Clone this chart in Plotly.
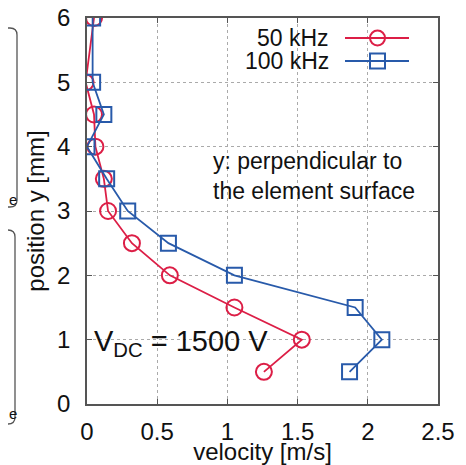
import plotly.graph_objects as go

# data
y_pos = [6, 5, 4.5, 4, 3.5, 3, 2.5, 2, 1.5, 1, 0.5]
v_50khz = [0.05, -0.01, 0.05, 0.06, 0.12, 0.15, 0.32, 0.59, 1.05, 1.53, 1.26]
v_100khz = [0.04, 0.04, 0.12, 0.0, 0.14, 0.29, 0.58, 1.05, 1.91, 2.1, 1.87]
x_ticks = [0, 0.5, 1, 1.5, 2, 2.5]
y_ticks = [0, 1, 2, 3, 4, 5, 6]
series_names = ["50 kHz", "100 kHz"]

RED = "rgb(220,30,70)"
BLUE = "rgb(40,90,170)"
FONT = "Liberation Sans, Arial, sans-serif"
INK = "#111111"

OFF = 8  # page body margin around the plot div
W, H = 466 - OFF, 465 - OFF
L, R, T, B = 87, 438, 18, 404  # plot area in page pixels


def px(x):
    return (x - L) / (R - L)


def py(y):
    return (B - y) / (B - T)


fig = go.Figure()
fig.add_trace(go.Scatter(
    x=v_50khz, y=y_pos, mode="lines+markers", name=series_names[0],
    line=dict(color=RED, width=1.8),
    marker=dict(symbol="circle-open", size=16, color=RED, line=dict(width=2)),
))
fig.add_trace(go.Scatter(
    x=v_100khz, y=y_pos, mode="lines+markers", name=series_names[1],
    line=dict(color=BLUE, width=1.8),
    marker=dict(symbol="square-open", size=15, color=BLUE, line=dict(width=2)),
))

shapes = []
# white boxes behind key / labels (cover gridlines only)
for x0, y0, x1, y1 in [(215, 23, 433, 71), (198, 140, 433, 208), (88, 323, 273, 373)]:
    shapes.append(dict(type="rect", xref="paper", yref="paper", layer="between",
                       x0=px(x0), x1=px(x1), y0=py(y1), y1=py(y0),
                       fillcolor="white", line=dict(width=0)))

# legend samples (text on the left, symbol on the right)
for i, col in enumerate([RED, BLUE]):
    yy = 38 + 23 * i
    shapes.append(dict(type="line", xref="paper", yref="paper",
                       x0=px(345), x1=px(409), y0=py(yy), y1=py(yy),
                       line=dict(color=col, width=1.8)))
    shapes.append(dict(type="circle" if i == 0 else "rect", xref="paper", yref="paper",
                       x0=px(370), x1=px(385), y0=py(yy + 7.5), y1=py(yy - 7.5),
                       line=dict(color=col, width=2), fillcolor="rgba(0,0,0,0)"))

# cropped-out neighbours of the original figure
shapes.append(dict(type="line", xref="paper", yref="paper",
                   x0=px(464), x1=px(464), y0=py(465), y1=py(10),
                   line=dict(color="#cccccc", width=1)))
for top, bot, right in [(28, 207, 17), (230, 424, 15)]:
    r = 7
    path = (f"M {px(0)},{py(top)} L {px(right - r)},{py(top)} "
            f"Q {px(right)},{py(top)} {px(right)},{py(top + r)} "
            f"L {px(right)},{py(bot - r)} "
            f"Q {px(right)},{py(bot)} {px(right - r)},{py(bot)} "
            f"L {px(0)},{py(bot)}")
    shapes.append(dict(type="path", xref="paper", yref="paper", path=path,
                       line=dict(color="#555555", width=1.3)))

annotations = []
for i, name in enumerate(series_names):
    annotations.append(dict(text=name, xref="paper", yref="paper",
                            x=px(330), y=py(38 + 23 * i), xanchor="right", yanchor="middle",
                            showarrow=False, borderpad=0,
                            font=dict(size=23, color=INK, family=FONT)))
annotations.append(dict(text="y: perpendicular to<br>the element surface",
                        xref="paper", yref="paper", x=px(211), y=py(176),
                        xanchor="left", yanchor="middle", align="left", showarrow=False,
                        font=dict(size=23, color=INK, family=FONT)))
annotations.append(dict(text="V<sub>DC</sub> = 1500 V", xref="paper", yref="paper",
                        x=px(92), y=py(343), xanchor="left", yanchor="middle",
                        showarrow=False, font=dict(size=29, color=INK, family=FONT)))
for yy in [199, 413]:
    annotations.append(dict(text="e", xref="paper", yref="paper", x=px(OFF), y=py(yy),
                            xanchor="left", yanchor="middle", showarrow=False,
                            borderpad=0, font=dict(size=15, color=INK, family=FONT)))

axis_style = dict(
    showline=True, linecolor="#555555", linewidth=1.5, mirror="ticks",
    ticks="inside", ticklen=5, tickcolor="#555555",
    showgrid=True, gridcolor="#aaaaaa", gridwidth=1, griddash="dot",
    zeroline=False, automargin=False, ticklabeloverflow="allow",
    tickfont=dict(size=24, color=INK, family=FONT),
)

fig.update_xaxes(range=[0, 2.5], tickvals=x_ticks, ticktext=[f"{t:g}" for t in x_ticks],
                 title=dict(text="velocity [m/s]", standoff=2,
                            font=dict(size=24, color=INK, family=FONT)),
                 ticklabelstandoff=5, **axis_style)
fig.update_yaxes(range=[0, 6], tickvals=y_ticks,
                 title=dict(text="position y [mm]", standoff=6,
                            font=dict(size=24, color=INK, family=FONT)),
                 ticklabelstandoff=10, **axis_style)

fig.update_layout(
    width=W, height=H,
    margin=dict(l=L - OFF, r=W - (R - OFF), t=T - OFF, b=H - (B - OFF)),
    plot_bgcolor="white", paper_bgcolor="white",
    showlegend=False,
    shapes=shapes, annotations=annotations,
)

fig.write_html("out.html")
